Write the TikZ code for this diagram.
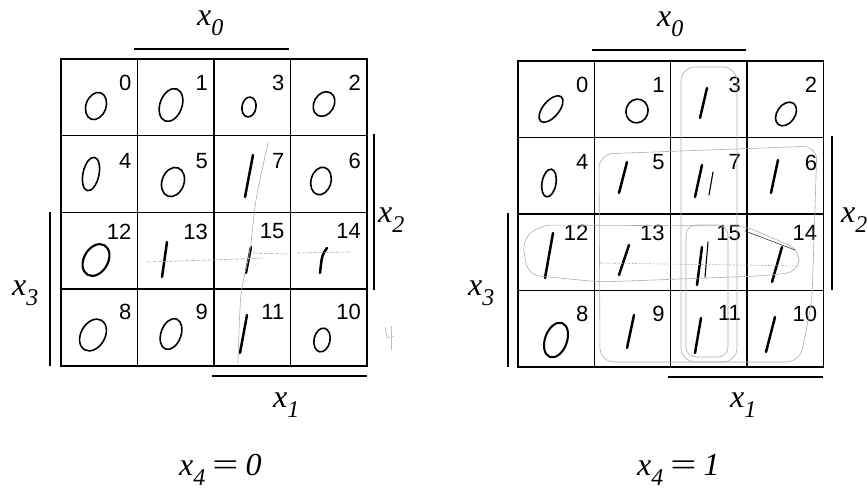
\documentclass[tikz,border=0pt]{standalone}
\usepackage{fontspec}
\setmainfont{Liberation Serif}
\newfontfamily\numfont{Liberation Sans}
\tikzset{
 cellbox/.style={draw, line width=1.3pt, minimum width=76.5pt, minimum height=76.6pt, outer sep=0pt, inner sep=0pt, anchor=north west},
 bar/.style={line width=1.1pt},
 idx/.style={font=\numfont\fontsize{22}{22}\selectfont, inner sep=0pt, anchor=north east},
 varlab/.style={font=\fontsize{32}{32}\selectfont\itshape, inner sep=0pt, anchor=base west},
 zero/.style={line width=1.6pt},
 one/.style={line width=2.5pt, line cap=round},
 thinone/.style={line width=1.1pt, line cap=round},
 loopline/.style={draw=gray!65, line width=0.6pt},
}
\newcommand\xsub[1]{x\raisebox{-10pt}{\fontsize{24}{24}\selectfont #1}}
\newcommand\wideeq{\scalebox{1.45}[1]{=}}
\newcommand\zeroat[5]{\draw[zero, rotate around={#5:(#1,#2)}] (#1,#2) ellipse [x radius=#3pt, y radius=#4pt];}
\begin{document}
\begin{tikzpicture}[x=1pt,y=-1pt]
\useasboundingbox (0,0) rectangle (867,491);
\clip (0,0) rectangle (867,491);
% ---------- left map ----------
\foreach \r/\c/\n/\o in {0/0/0/16,0/1/1/16,0/2/3/16,0/3/2/16,
                         1/0/4/17,1/1/5/17,1/2/7/17,1/3/6/17,
                         2/0/12/11,2/1/13/11,2/2/15/11,2/3/14/11,
                         3/0/8/15,3/1/9/15,3/2/11/15,3/3/10/15}{
  \node[cellbox] (L\n) at ({61+\c*76.5},{59+\r*76.75}) {};
  \node[idx, xshift=-6pt, yshift=-\o pt] (Li\n) at (L\n.north east) {\n};
}
\draw[bar] (134,49) -- (289,49);
\draw[bar] (374,134) -- (374,290);
\draw[bar] (50,212) -- (50,366);
\draw[bar] (212,376) -- (367,376);
\node[varlab] (Lx0) at (197,25) {\xsub{0}};
\node[varlab] (Lx2) at (378,222) {\xsub{2}};
\node[varlab] (Lx3) at (12,295) {\xsub{3}};
\node[varlab] (Lx1) at (273,407) {\xsub{1}};
\node[varlab] (Lx4) at (179,475) {\xsub{4}\hspace{4pt}\wideeq\hspace{5pt}0};
% handwritten zeros
\zeroat{96}{106}{10}{14}{-20}
\zeroat{171}{105}{11}{17}{-20}
\zeroat{249}{107}{7}{10}{-10}
\zeroat{324}{104}{10}{13}{-30}
\zeroat{91}{174}{8}{17}{-12}
\zeroat{173}{182}{11}{15}{-20}
\zeroat{321}{181}{10}{14}{-15}
\draw[line width=2.1pt, rotate around={-30:(96,260)}] (96,260) ellipse [x radius=12pt, y radius=17pt];
\zeroat{93}{335}{12}{17}{-30}
\zeroat{171}{334}{10}{16}{-20}
\zeroat{322}{340}{8}{12}{-12}
% handwritten ones
\draw[one] (253,155) -- (245,197);
\draw[one] (167,242) -- (162,277);
\draw[one] (251,247) -- (246,273);
\draw[one] (327,248) .. controls (322,255) .. (320,273);
\draw[one] (247,315) -- (240,353);
% grey strokes
\draw[loopline] plot[smooth] coordinates {(268,143) (256,200) (250,250) (241,295) (238,363)};
\draw[loopline, dash pattern=on 4pt off 1.5pt] (147,262) -- (210,260) -- (263,258);
\draw[loopline, dash pattern=on 4pt off 1.5pt] (253,253) -- (287,254);
\draw[loopline, dash pattern=on 4pt off 1.5pt] (297,253) -- (352,252);
\draw[gray!50, line width=0.7pt] (385,327) -- (387,338) -- (394,336);
\draw[gray!50, line width=0.7pt] (391,326) -- (391,350);
% ---------- right map ----------
\foreach \r/\c/\n/\o in {0/0/0/16,0/1/1/16,0/2/3/16,0/3/2/16,
                         1/0/4/17,1/1/5/17,1/2/7/17,1/3/6/17,
                         2/0/12/11,2/1/13/11,2/2/15/11,2/3/14/11,
                         3/0/8/15,3/1/9/15,3/2/11/15,3/3/10/15}{
  \node[cellbox] (R\n) at ({518+\c*76.3},{61+\r*76.5}) {};
  \node[idx, xshift=-6pt, yshift=-\o pt] (Ri\n) at (R\n.north east) {\n};
}
\draw[bar] (592,50) -- (746,50);
\draw[bar] (832,136) -- (832,290);
\draw[bar] (508,213) -- (508,367);
\draw[bar] (668,377) -- (823,377);
\node[varlab] (Rx0) at (657,26) {\xsub{0}};
\node[varlab] (Rx2) at (841,222) {\xsub{2}};
\node[varlab] (Rx3) at (468,295) {\xsub{3}};
\node[varlab] (Rx1) at (730,407) {\xsub{1}};
\node[varlab] (Rx4) at (637,475) {\xsub{4}\hspace{4pt}\wideeq\hspace{5pt}1};
% zeros
\zeroat{551}{109}{8}{16}{-40}
\zeroat{637}{111}{11}{12}{-20}
\zeroat{786}{114}{9}{13}{-35}
\zeroat{549}{183}{7}{14}{-10}
\draw[line width=2pt, rotate around={-20:(556,340)}] (556,340) ellipse [x radius=11pt, y radius=18pt];
% ones
\draw[one] (707,88) -- (700,118);
\draw[one] (627,162) -- (619,193);
\draw[one] (702,165) -- (695,197);
\draw[thinone] (713,172) -- (709,195);
\draw[one] (778,160) -- (771,193);
\draw[one] (553,233) -- (545,278);
\draw[one] (629,245) -- (619,275);
\draw[one] (702,247) -- (697,285);
\draw[thinone] (708,242) -- (705,277);
\draw[one] (782,247) -- (772,282);
\draw[one] (634,315) -- (627,348);
\draw[one] (701,318) -- (695,353);
\draw[one] (775,317) -- (766,352);
% loops
\draw[loopline, rounded corners=14pt] (681,67) rectangle (737,362);
\draw[loopline, rounded corners=10pt] (686,225) rectangle (728,357);
\draw[loopline, rounded corners=14pt] (599,154) -- (817,146) -- (812,300) -- (800,362) -- (600,362) -- cycle;
\draw[loopline, rounded corners=12pt] (540,225) -- (745,226) -- (800,250) -- (798,272) -- (760,276) -- (600,282) -- (528,275) -- (522,240) -- cycle;
\draw[gray!40!black, line width=0.6pt] (745,231) -- (795,250);
\draw[loopline, dash pattern=on 2pt off 1.5pt] (600,263) -- (800,266);
\end{tikzpicture}
\end{document}
